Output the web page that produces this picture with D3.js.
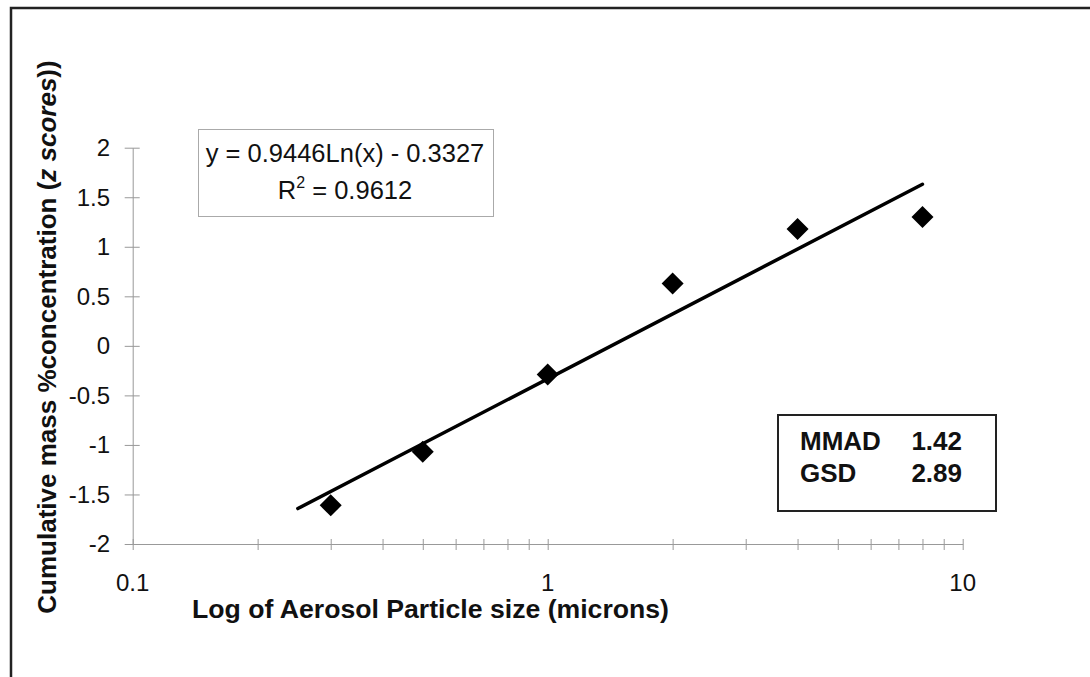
<!DOCTYPE html>
<html>
<head>
<meta charset="utf-8">
<script src="https://cdn.jsdelivr.net/npm/d3@7"></script>
<style>
  body { margin: 0; background: #fff; }
  text { font-family: Arial, "Liberation Sans", sans-serif; }
</style>
</head>
<body>
<svg id="chart" width="1090" height="677"></svg>
<script>
// particle sizes (microns) and cumulative mass z scores
var sizes = [0.3, 0.5, 1, 2, 4, 8];
var zScores = [-1.61, -1.07, -0.29, 0.63, 1.18, 1.30];

// log trendline shown on the chart
var trendSlope = 0.9446;
var trendIntercept = -0.3327;
var trendRange = [0.25, 8];

var xMajorTicks = [0.1, 1, 10];
var yTicks = [-2, -1.5, -1, -0.5, 0, 0.5, 1, 1.5, 2];

var statNames = ["MMAD", "GSD"];
var statValues = ["1.42", "2.89"];

var svg = d3.select("#chart");

// outer chart frame (runs off the right and bottom edges)
svg.append("path")
   .attr("d", "M11,690 L11,8 L1100,8")
   .attr("fill", "none")
   .attr("stroke", "#222")
   .attr("stroke-width", 2.5);

var x = d3.scaleLog().domain([0.1, 10]).range([132.7, 962.7]);
var y = d3.scaleLinear().domain([-2, 2]).range([544, 147.7]);

// every 1..9 tick inside the two decades
var xAllTicks = [];
[0.1, 1].forEach(function(d){
  for (var i = 1; i < 10; i++) xAllTicks.push(+(d * i).toFixed(2));
});
xAllTicks.push(10);

var xAxis = svg.append("g")
   .attr("transform", "translate(0," + y(-2) + ")")
   .call(d3.axisBottom(x).tickValues(xAllTicks).tickSize(0).tickFormat(""));
xAxis.select(".domain").attr("stroke", "#999");
xAxis.selectAll(".tick line").attr("stroke", "#999").attr("y1", -5).attr("y2", 6);

svg.append("g").selectAll("text")
   .data(xMajorTicks)
   .enter().append("text")
   .attr("x", function(d){ return x(d); })
   .attr("y", 591)
   .attr("text-anchor", "middle")
   .attr("font-size", 24)
   .attr("fill", "#111")
   .text(function(d){ return d; });

var yAxis = svg.append("g")
   .attr("transform", "translate(" + x(0.1) + ",0)")
   .call(d3.axisLeft(y).tickValues(yTicks).tickSize(0).tickFormat(""));
yAxis.select(".domain").attr("stroke", "#999");
yAxis.selectAll(".tick line").attr("stroke", "#999").attr("x1", -8).attr("x2", 7);

svg.append("g").selectAll("text")
   .data(yTicks)
   .enter().append("text")
   .attr("x", 110)
   .attr("y", function(d){ return y(d); })
   .attr("dy", "0.35em")
   .attr("text-anchor", "end")
   .attr("font-size", 24)
   .attr("fill", "#111")
   .text(function(d){ return d; });

// axis titles
svg.append("text")
   .attr("x", 192)
   .attr("y", 618)
   .attr("font-size", 26)
   .attr("font-weight", "bold")
   .attr("fill", "#111")
   .attr("textLength", 477)
   .attr("lengthAdjust", "spacingAndGlyphs")
   .text("Log of Aerosol Particle size (microns)");

var yTitle = svg.append("text")
   .attr("transform", "translate(56,337) rotate(-90)")
   .attr("text-anchor", "middle")
   .attr("font-size", 26)
   .attr("font-weight", "bold")
   .attr("fill", "#111");
yTitle.append("tspan").text("Cumulative mass %concentration (");
yTitle.append("tspan").attr("font-style", "italic").text("z scores");
yTitle.append("tspan").text("))");

// trendline
var line = d3.line()
   .x(function(d){ return x(d); })
   .y(function(d){ return y(trendSlope * Math.log(d) + trendIntercept); });

svg.append("path")
   .datum(trendRange)
   .attr("d", line)
   .attr("fill", "none")
   .attr("stroke", "#000")
   .attr("stroke-width", 3.5)
   .attr("stroke-linecap", "round");

// diamond markers
svg.append("g").selectAll("path")
   .data(sizes)
   .enter().append("path")
   .attr("transform", function(d, i){ return "translate(" + x(d) + "," + y(zScores[i]) + ")"; })
   .attr("d", "M0,-11 L11,0 L0,11 L-11,0 Z")
   .attr("fill", "#000");

// equation label
svg.append("rect")
   .attr("x", 198.5).attr("y", 129.5)
   .attr("width", 295).attr("height", 87)
   .attr("fill", "#fff")
   .attr("stroke", "#aaa");

svg.append("text")
   .attr("x", 345).attr("y", 162)
   .attr("text-anchor", "middle")
   .attr("font-size", 25.5)
   .attr("fill", "#111")
   .text("y = " + trendSlope + "Ln(x) - " + Math.abs(trendIntercept));

var r2 = svg.append("text")
   .attr("x", 345).attr("y", 199)
   .attr("text-anchor", "middle")
   .attr("font-size", 25.5)
   .attr("fill", "#111");
r2.append("tspan").text("R");
r2.append("tspan").attr("font-size", 16).attr("dy", -11).text("2");
r2.append("tspan").attr("dy", 11).text(" = 0.9612");

// MMAD / GSD box
svg.append("rect")
   .attr("x", 778).attr("y", 415)
   .attr("width", 218).attr("height", 96)
   .attr("fill", "#fff")
   .attr("stroke", "#222")
   .attr("stroke-width", 2);

var stats = svg.append("g").selectAll("g")
   .data(statNames)
   .enter().append("g")
   .attr("transform", function(d, i){ return "translate(0," + (450 + i * 32) + ")"; });

stats.append("text")
   .attr("x", 800)
   .attr("font-size", 26)
   .attr("font-weight", "bold")
   .attr("fill", "#111")
   .text(function(d){ return d; });

stats.append("text")
   .attr("x", 962)
   .attr("text-anchor", "end")
   .attr("font-size", 26)
   .attr("font-weight", "bold")
   .attr("fill", "#111")
   .text(function(d, i){ return statValues[i]; });
</script>
</body>
</html>
